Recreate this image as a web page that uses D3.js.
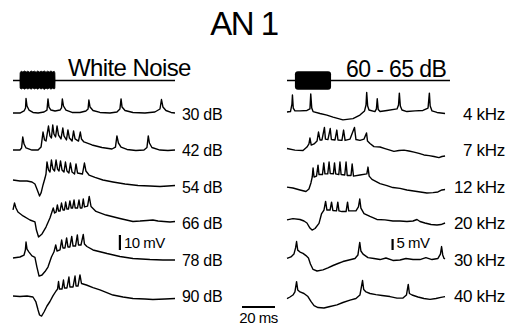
<!DOCTYPE html>
<html>
<head>
<meta charset="utf-8">
<title>AN 1</title>
<script src="https://cdn.jsdelivr.net/npm/d3@7"></script>
<style>
  body { margin: 0; background: #fff; }
  svg { display: block; }
  text { font-family: "Liberation Sans", Arial, Helvetica, sans-serif; fill: #000; }
</style>
</head>
<body>
<div class="figure"></div>
<script>
// Row labels (top to bottom)
var noiseLevels = ["30 dB", "42 dB", "54 dB", "66 dB", "78 dB", "90 dB"];
var toneFreqs = ["4 kHz", "7 kHz", "12 kHz", "20 kHz", "30 kHz", "40 kHz"];

// Stimulus on/off times, ms
var noiseStim = [4.2, 25.5];
var toneStim = [4.8, 26.7];

// White noise burst outline [ms, relative amplitude]
var noiseUpper = [[4.2,0],[4.3,0.9],[5,1.1],[6,1.0],[7,1.12],[8,1.0],[9,1.1],[10,0.98],[11,1.12],[12,1.02],[13,1.1],[14,0.98],[15,1.12],[16,1.0],[17,1.1],[18,1.02],[19,1.12],[20,0.98],[21,1.1],[22,1.0],[23,1.12],[24,1.0],[25,1.08],[25.4,0.9],[25.5,0]];
var noiseLower = [[25.5,0],[25.4,-0.9],[25,-1.0],[24,-0.9],[23,-1.02],[22,-0.88],[21,-1.0],[20,-0.9],[19,-1.05],[18,-0.9],[17,-1.0],[16,-0.88],[15,-1.02],[14,-0.9],[13,-1.0],[12,-0.88],[11,-1.02],[10,-0.9],[9,-1.0],[8,-0.9],[7,-1.02],[6,-0.9],[5,-1.0],[4.3,-0.9],[4.2,0]];

// Membrane potential traces [time ms, mV re. row baseline]
// White noise, by level
var wn30 = [[0,-0.7],[4.2,-0.7],[6.7,0.7],[7.6,2.7],[7.9,9],[8.5,4],[9.7,1.3],[12.1,-0.3],[15.2,-0.7],[18.8,0],[20.6,1.3],[21.2,8.7],[21.8,3.3],[23,1.3],[25.5,0.7],[28.5,1.3],[29.4,2.7],[29.9,8.7],[30.6,4],[32.1,1.3],[35.8,-0.3],[40.6,-0.3],[44.2,0.7],[45.5,2],[46,8],[46.7,3.3],[48.5,1],[52.7,-0.3],[58.8,-0.7],[63,0],[64.8,2],[65.5,8.7],[66.1,3.3],[67.9,1],[72.7,-0.3],[80,-0.7],[86,0],[89.1,2],[90,8.3],[90.9,3.3],[92.7,1],[95.8,-0.3],[98.2,-0.7]];
var wn42 = [[0,-0.7],[4.2,-0.7],[5.2,0.7],[5.9,8],[6.7,3.3],[7.9,0.7],[11.5,-0.7],[15.2,-0.7],[17,1.3],[18.2,11.3],[19.1,6],[20,5.3],[21.5,15.3],[22.4,8.7],[23.3,7.3],[24.1,16],[24.8,10],[25.8,8],[26.7,15.3],[27.6,9.3],[29.1,6.7],[30.2,14],[30.9,8.7],[32.4,6],[33.3,12.7],[34.2,7.3],[35.8,5.3],[36.7,12],[37.6,6.7],[39.7,5.3],[40.8,11.3],[41.5,6.7],[43,4.7],[47.9,2.7],[53.9,1],[60,0],[62.1,1.3],[63,8.7],[63.9,4],[65.5,1.3],[69.1,-0.3],[74.5,-1],[79.4,-0.7],[81.2,1],[82,8.7],[82.7,4],[84.2,1],[89.1,-0.7],[93.9,-1],[98.2,-0.7]];
var wn54 = [[0,4],[4.2,3.3],[8.5,3.3],[11.5,2.7],[13.3,1.3],[14.5,-2],[16.1,-6.7],[17,-4.7],[18.2,0.7],[19.4,5.3],[20,8],[20.6,16],[21.5,10.7],[22.4,9.3],[23.3,17.3],[24.2,11.3],[25.2,10],[26.1,17.3],[27,11.3],[27.9,10],[28.8,16.7],[29.7,10.7],[30.9,9.3],[31.8,16],[32.7,10],[33.9,8.7],[34.8,15.3],[35.8,9.3],[37.3,8],[38.2,14.7],[39.1,8.7],[42.1,8],[43.3,15.3],[44.2,10],[46.1,7.3],[49.7,5.7],[54.5,4],[60.6,2.7],[67.9,1.3],[75.8,0.3],[83,0],[89.1,-0.3],[93.9,0],[98.2,0.3]];
var wn66 = [[0,8.7],[0.9,13.3],[1.8,10],[3,7.3],[6.1,4.7],[10.3,2],[13.3,0.7],[14.2,-4.7],[15.5,-9.3],[17.6,-7.3],[20,-2.7],[22.4,3.3],[23.6,7.3],[24.4,10],[25.2,6.7],[26.1,7.3],[26.9,12],[27.6,8],[28.5,8],[29.4,13.3],[30.3,8.7],[31.2,8.7],[31.9,14],[32.7,9.3],[33.6,9.3],[34.5,14.7],[35.3,10],[36.1,10],[37,15.3],[37.7,10],[39.1,10],[40,15.3],[40.8,10],[41.8,10],[42.6,16],[43.3,10.7],[45.2,11.3],[46.2,17.7],[47.3,11],[50.3,7.7],[56.4,5.3],[64.8,3],[72.7,1],[77,1.3],[81.2,1.7],[84.8,2],[87.9,1.3],[91.5,1],[95.2,0.7],[98.2,1]];
var wn78 = [[0,1.3],[4.2,2],[6.7,3.3],[7.5,6.7],[7.9,12],[8.5,7.3],[9.7,5.3],[11.5,2.7],[13.3,1.7],[14.5,-4.7],[15.8,-10.7],[17.6,-10],[19.4,-7.7],[21.2,-4.7],[23.3,2],[24.8,5.3],[25.9,10],[26.7,6],[28.5,6.7],[29.5,13.3],[30.3,8],[31.5,8],[32.5,14.7],[33.3,8.7],[34.5,8.7],[35.6,15.7],[36.4,9.3],[37.9,9.3],[39,16.7],[39.7,10],[41.2,10],[42.6,17],[43.3,10.7],[44.8,9],[48.5,6.7],[57,4.3],[64.8,2.3],[72.7,1],[83,0.3],[90.9,0],[98.2,0]];
var wn90 = [[0,0.7],[4.2,0.3],[8.5,0.7],[12.1,0],[13.9,-3.3],[15.2,-8.7],[16.1,-12],[17.3,-12.7],[18.8,-10],[20.6,-6],[22.4,-3],[24.2,0.7],[26.1,4],[27,5.3],[27.6,10.3],[28.2,5.3],[29.7,5.3],[30.6,11.3],[31.2,6],[32.7,6],[33.9,13.3],[34.5,6.7],[36.4,6.7],[37.6,14],[38.2,7.3],[39.4,7.3],[40.6,14.7],[41.5,9],[44.5,8],[48.5,6.3],[52.7,4.7],[60.6,1.3],[66.7,0],[72.7,-1],[80,-1.3],[84.8,-1.7],[92.1,-1.3],[98.2,-1]];

// Tone bursts 60-65 dB, by frequency
var tn4 = [[0,0],[2.1,0.2],[3,3.6],[3.3,7.7],[3.8,1.8],[4.8,0.5],[7.9,0.5],[12.1,0.7],[13.9,1.4],[14.4,8.2],[15,1.8],[15.8,0.2],[20,-0.7],[24.2,-1.4],[27.9,-2.3],[33.9,-3.6],[40,-3],[44.2,-1.4],[47,0.5],[47.9,3.2],[48.3,8.9],[48.9,2.7],[49.7,0.9],[53.3,0.2],[54.2,1.4],[54.7,6],[55.3,1.1],[56.4,0.2],[60.6,0.7],[66.7,1.4],[67.6,3.2],[68.1,8.6],[68.7,2.7],[69.7,0.9],[72.7,0.2],[77.6,0.5],[82.4,0.7],[85.5,1.8],[86.3,8.6],[86.8,2.7],[87.9,0.5],[90.9,-0.2],[95.8,-0.7]];
var tn7 = [[0,0.2],[4.8,-0.5],[9.7,-0.7],[12.1,0.9],[13.3,2.3],[13.9,5],[14.7,1.8],[16.4,2.3],[18.2,3.6],[19.1,7.7],[20,4.1],[21.2,4.1],[22.7,9.8],[23.3,4.5],[24.8,4.3],[26.2,9.3],[26.9,4.3],[29.1,4.1],[30.2,8.6],[30.9,4.1],[33.3,3.9],[34.3,8.6],[35.2,3.9],[38.2,4.5],[40.9,9.8],[41.8,4.3],[44.2,3.9],[46.7,4.5],[48.2,7.3],[48.8,3.6],[50.3,2.5],[52.7,1.1],[56.4,0.9],[59.4,0.2],[62.4,-0.5],[64.8,-1.1],[67.9,-0.7],[70.9,-0.5],[73.9,-0.9],[77,-1.4],[80,-2],[83,-2.7],[86.1,-3],[89.1,-3.4],[92.1,-3.9],[93.9,-3.4],[95.8,-3.2]];
var tn12 = [[0,-0.5],[3.6,-0.9],[7.9,-1.8],[11.5,-2.5],[13.3,-1.4],[14.5,1.4],[15.3,4.1],[15.8,8.2],[16.4,4.1],[17.9,4.5],[18.8,9.5],[19.4,5.2],[21.5,5.2],[22.3,10.5],[23,5.5],[24.7,5.5],[25.5,10.9],[26.2,5.7],[28.1,5.5],[28.8,10.5],[29.5,5.5],[31.4,5.2],[32.1,10.9],[32.8,5.2],[35,5],[35.8,10.9],[36.5,4.8],[38.8,4.8],[39.5,10],[40.3,4.5],[44.2,5],[48.4,5.5],[49.1,8.6],[49.8,4.5],[51.5,3],[56.4,1.1],[60.6,0.2],[64.2,-0.7],[68.5,-1.1],[72.7,-1.8],[78.8,-2.5],[84.8,-3.2],[88.5,-3],[91.5,-2.7],[93.9,-1.8],[95.8,-1.6]];
var tn20 = [[0,1.4],[3.6,2],[7.9,1.6],[10.3,0.9],[12.1,0],[13.9,-2.3],[15.2,-3.2],[17,-2.5],[19.4,-0.2],[20.9,4.1],[22.4,5.9],[23.4,9.8],[24.2,5.9],[26.1,5.9],[27,9.5],[27.8,5.7],[30,5.5],[30.8,9.5],[31.5,5.5],[33.3,5.2],[35.8,5.2],[36.7,9.5],[37.4,5.5],[41.8,5.5],[43.3,7.3],[44.1,10.9],[44.8,6.8],[46.7,4.3],[50.3,3],[54.5,1.6],[59.4,1.4],[64.2,0.9],[68.5,0.9],[72.7,0.7],[76.4,0.9],[78.8,1.6],[80.6,0.7],[83.6,0],[87.3,-0.7],[90.9,-0.9],[93.3,-0.7],[95.8,0]];
var tn30 = [[0,0.7],[2.4,1.4],[4.2,2.7],[5.2,5.5],[5.8,8.4],[6.5,4.5],[7.9,3.6],[9.7,3],[11.5,2],[13,0.9],[14.2,-1.8],[15.8,-4.3],[18.2,-5],[21.8,-4.5],[24.8,-3.6],[27.9,-2.5],[30.9,-1.6],[33.9,-0.7],[37.6,0],[41.2,0.7],[43,2.3],[44.1,8],[44.8,4.1],[46.1,2.7],[49.1,1.1],[52.7,0.7],[56.4,0.2],[60,0.9],[64.2,-0.2],[68.5,0],[72.1,0.7],[76.4,0.2],[80.6,0.2],[84.2,1.1],[87.9,0.2],[91.5,0.7],[93,2.7],[93.7,6.1],[94.4,2.3],[95.2,0.7],[95.8,0.5]];
var tn40 = [[0,-0.7],[1.8,0],[3.6,0.9],[4.8,2.3],[5.8,7],[6.5,3.2],[7.9,2.3],[10.3,1.6],[12.7,0.2],[14.5,-2],[16.4,-3.9],[18.8,-4.8],[22.4,-5],[26.1,-4.3],[30.3,-3.6],[33.9,-2.5],[38.2,-1.4],[41.8,-0.7],[44.2,0.9],[45.8,7.5],[46.5,3.4],[47.9,2.3],[50.3,1.6],[53.9,1.1],[57.6,0.7],[62.4,0.2],[66.7,-0.5],[70.3,-0.5],[72.4,0.9],[73.5,5.7],[74.2,1.6],[75.8,0.9],[79.4,0],[83,-0.7],[86.7,-1.1],[90.3,-0.7],[93.3,-0.2],[95.8,0.2]];

var noiseTraces = [wn30, wn42, wn54, wn66, wn78, wn90];
var toneTraces = [tn4, tn7, tn12, tn20, tn30, tn40];

function init(){

  var w = 510;
  var h = 329;

  var svg = d3.select("div.figure")
    .append("svg")
    .attr("width", w)
    .attr("height", h);

  // time axis: 20 ms = 33 px in both panels
  var xLeft = d3.scaleLinear().domain([0, 98.2]).range([13, 175]);
  var xRight = d3.scaleLinear().domain([0, 98.2]).range([287, 449]);

  // one row per trace, same spacing left and right
  var rowScale = d3.scalePoint().domain(d3.range(6)).range([112, 297]);
  var labelScale = d3.scalePoint().domain(d3.range(6)).range([120, 302]);

  // voltage gain differs between the two panels (10 mV vs 5 mV bars)
  var mvLeft = d3.scaleLinear().domain([0, 10]).range([0, -15]);
  var mvRight = d3.scaleLinear().domain([0, 5]).range([0, -11]);

  // stimulus monitor trace
  var stimY = d3.scaleLinear().domain([-1, 1]).range([89, 72]);

  // Title
  svg.append("text")
    .attr("x", 244)
    .attr("y", 35)
    .attr("text-anchor", "middle")
    .style("font-size", "33px")
    .style("letter-spacing", "-1.5px")
    .text("AN 1");

  var panels = [
    { x: xLeft, mv: mvLeft, traces: noiseTraces, labels: noiseLevels,
      labelX: 182, anchor: "start", size: "16px", stimEnd: 98.2 },
    { x: xRight, mv: mvRight, traces: toneTraces, labels: toneFreqs,
      labelX: 505, anchor: "end", size: "17px", stimEnd: 98.8 }
  ];

  panels.forEach(function(p){
    var g = svg.append("g");

    // stimulus baseline
    g.append("line")
      .attr("x1", p.x(0))
      .attr("x2", p.x(p.stimEnd))
      .attr("y1", stimY(0))
      .attr("y2", stimY(0))
      .attr("stroke", "#000")
      .attr("stroke-width", 1.5);

    // traces
    g.selectAll("path.trace")
      .data(p.traces)
      .enter()
      .append("path")
      .attr("class", "trace")
      .attr("fill", "none")
      .attr("stroke", "#000")
      .attr("stroke-width", 1.4)
      .attr("stroke-linejoin", "round")
      .attr("d", function(d, i){
        return d3.line()
          .x(function(pt){ return p.x(pt[0]); })
          .y(function(pt){ return rowScale(i) + p.mv(pt[1]); })(d);
      });

    // row labels
    g.selectAll("text.row")
      .data(p.labels)
      .enter()
      .append("text")
      .attr("class", "row")
      .attr("x", p.labelX)
      .attr("y", function(d, i){ return labelScale(i); })
      .attr("text-anchor", p.anchor)
      .style("font-size", p.size)
      .style("letter-spacing", "-0.3px")
      .text(function(d){ return d; });
  });

  // white noise burst
  var stimLine = d3.line()
    .x(function(d){ return xLeft(d[0]); })
    .y(function(d){ return stimY(d[1]); });
  svg.append("path")
    .attr("d", stimLine(noiseUpper.concat(noiseLower)) + "Z")
    .attr("fill", "#000")
    .attr("stroke", "#000")
    .attr("stroke-width", 0.8);

  // tone burst
  svg.append("rect")
    .attr("x", xRight(toneStim[0]))
    .attr("width", xRight(toneStim[1]) - xRight(toneStim[0]))
    .attr("y", stimY(1.1))
    .attr("height", stimY(-1.1) - stimY(1.1))
    .attr("rx", 3)
    .attr("fill", "#000");

  // stimulus headings
  svg.append("text")
    .attr("x", 68)
    .attr("y", 76)
    .style("font-size", "24px")
    .style("letter-spacing", "-0.6px")
    .text("White Noise");

  svg.append("text")
    .attr("x", 346)
    .attr("y", 77)
    .style("font-size", "23px")
    .style("letter-spacing", "-0.6px")
    .text("60 - 65 dB");

  // scale bars
  var barBase = 250;
  svg.append("line")
    .attr("x1", xLeft(64.8)).attr("x2", xLeft(64.8))
    .attr("y1", barBase).attr("y2", barBase + mvLeft(10))
    .attr("stroke", "#000").attr("stroke-width", 2.2);
  svg.append("text")
    .attr("x", xLeft(64.8) + 4)
    .attr("y", 248)
    .style("font-size", "15px")
    .style("letter-spacing", "-0.5px")
    .text("10 mV");

  svg.append("line")
    .attr("x1", xRight(64)).attr("x2", xRight(64))
    .attr("y1", barBase).attr("y2", barBase + mvRight(5))
    .attr("stroke", "#000").attr("stroke-width", 2.2);
  svg.append("text")
    .attr("x", xRight(64) + 4)
    .attr("y", 248)
    .style("font-size", "15px")
    .style("letter-spacing", "-0.5px")
    .text("5 mV");

  var msX = 242;
  svg.append("line")
    .attr("x1", msX).attr("x2", msX + xLeft(20) - xLeft(0))
    .attr("y1", 307).attr("y2", 307)
    .attr("stroke", "#000").attr("stroke-width", 2);
  svg.append("text")
    .attr("x", msX + (xLeft(20) - xLeft(0)) / 2)
    .attr("y", 323)
    .attr("text-anchor", "middle")
    .style("font-size", "15px")
    .style("letter-spacing", "-0.5px")
    .text("20 ms");
}

window.onload = init;
</script>
</body>
</html>
